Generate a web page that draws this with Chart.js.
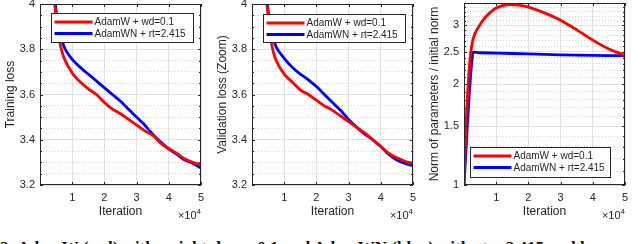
<!DOCTYPE html>
<html>
<head>
<meta charset="utf-8">
<script src="https://cdn.jsdelivr.net/npm/chart.js@4/dist/chart.umd.min.js"></script>
<style>
  html, body { margin: 0; padding: 0; background: #fff; }
  #fig { position: relative; width: 640px; height: 244px; overflow: hidden; background: #fff; }
  #fig canvas { position: absolute; top: 0; }
  #caption { position: absolute; left: 0; top: 238px; white-space: nowrap;
    font: bold 17px "Liberation Serif", "DejaVu Serif", serif; color: #111; }
</style>
</head>
<body>
<div id="fig">
  <canvas id="c_train" width="210" height="228" style="left:0px"></canvas>
  <canvas id="c_val" width="210" height="228" style="left:212px"></canvas>
  <canvas id="c_norm" width="216" height="228" style="left:424px"></canvas>
  <div id="caption">2: AdamW (red) with weight decay 0.1 and AdamWN (blue) with rt = 2.415 and lr</div>
</div>
<script>
// iteration, in units of 1e4
var lossIter = [0.4, 0.5, 0.6, 0.75, 1.0, 1.25, 1.5, 1.75, 2.0, 2.25, 2.5, 2.75, 3.0, 3.25, 3.5, 3.75, 4.0, 4.25, 4.5, 4.75, 5.0];

var trainRed  = [4.08, 3.94, 3.84, 3.76, 3.695, 3.655, 3.625, 3.60, 3.565, 3.535, 3.515, 3.49, 3.465, 3.44, 3.42, 3.385, 3.36, 3.34, 3.315, 3.30, 3.29];
var trainBlue = [4.15, 3.97, 3.89, 3.81, 3.755, 3.72, 3.69, 3.66, 3.63, 3.60, 3.57, 3.535, 3.50, 3.465, 3.425, 3.39, 3.36, 3.335, 3.31, 3.295, 3.275];

var valRed  = [4.08, 3.95, 3.83, 3.75, 3.69, 3.655, 3.62, 3.60, 3.575, 3.55, 3.53, 3.505, 3.48, 3.455, 3.43, 3.40, 3.37, 3.34, 3.32, 3.305, 3.295];
var valBlue = [4.15, 3.97, 3.89, 3.81, 3.76, 3.72, 3.69, 3.665, 3.635, 3.60, 3.565, 3.53, 3.49, 3.455, 3.425, 3.40, 3.37, 3.335, 3.31, 3.295, 3.285];

var normIterRed = [0, 0.05, 0.1, 0.15, 0.2, 0.27, 0.35, 0.5, 0.7, 1.0, 1.35, 1.7, 2.0, 2.5, 3.0, 3.5, 4.0, 4.5, 5.0];
var normRed     = [1.0, 1.4, 1.8, 2.15, 2.45, 2.7, 2.85, 3.02, 3.2, 3.38, 3.46, 3.45, 3.40, 3.27, 3.11, 2.91, 2.71, 2.55, 2.44];
var normIterBlue = [0, 0.27, 0.5, 1.0, 2.0, 3.0, 4.0, 5.0];
var normBlue     = [1.0, 2.48, 2.485, 2.48, 2.465, 2.45, 2.44, 2.435];

var iterTicks = [1, 2, 3, 4, 5];
var lossTicks = [3.2, 3.4, 3.6, 3.8, 4];
var normTicks = [1, 1.5, 2, 2.5, 3];

var labelRed = 'AdamW + wd=0.1';
var labelBlue = 'AdamWN + rt=2.415';

var INK = '#262626';
Chart.defaults.font.family = '"Liberation Sans", Arial, Helvetica, sans-serif';
Chart.defaults.color = INK;

function pts(xs, ys) {
	return xs.map(function(x, i){ return {x: x, y: ys[i]}; });
}
function steps(a, b, d) {
	var out = [];
	for (var v = a; v <= b + 1e-9; v += d) out.push(Math.round(v * 1000) / 1000);
	return out;
}
function isIn(list, v) {
	return list.some(function(t){ return Math.abs(t - v) < 1e-6; });
}

// box, inner ticks, legend and x10^4 the matlab way
var matlabStyle = {
	id: 'matlabStyle',
	afterDraw: function(chart, args, opts) {
		var ctx = chart.ctx, a = chart.chartArea;
		var xs = chart.scales.x, ys = chart.scales.y;
		ctx.save();
		ctx.strokeStyle = INK;
		ctx.lineWidth = 1;
		ctx.strokeRect(Math.round(a.left) + 0.5, Math.round(a.top) + 0.5,
			Math.round(a.right - a.left) - 1, Math.round(a.bottom - a.top) - 1);
		ctx.beginPath();
		xs.ticks.forEach(function(t){
			var px = Math.round(xs.getPixelForValue(t.value)) + 0.5;
			ctx.moveTo(px, a.bottom); ctx.lineTo(px, a.bottom - 3);
			ctx.moveTo(px, a.top); ctx.lineTo(px, a.top + 3);
		});
		ys.ticks.forEach(function(t){
			var py = Math.round(ys.getPixelForValue(t.value)) + 0.5;
			var len = isIn(opts.yMajor, t.value) ? 3 : 2;
			ctx.moveTo(a.left, py); ctx.lineTo(a.left + len, py);
			ctx.moveTo(a.right, py); ctx.lineTo(a.right - len, py);
		});
		ctx.stroke();

		// x10^4
		ctx.fillStyle = INK;
		ctx.textBaseline = 'alphabetic';
		ctx.textAlign = 'right';
		ctx.font = '8px "Liberation Sans", Arial, sans-serif';
		ctx.fillText('4', a.right, a.bottom + 29);
		var w4 = ctx.measureText('4').width;
		ctx.font = '11px "Liberation Sans", Arial, sans-serif';
		ctx.fillText('\u00d710', a.right - w4, a.bottom + 34);

		// legend inside the axes
		var L = opts.legend;
		var bw = L.w, bh = L.h;
		var bx = L.corner === 'tr' ? a.right - L.dx - bw : a.left + L.dx;
		var by = L.corner === 'tr' ? a.top + L.dy : a.bottom - L.dy - bh;
		bx = Math.round(bx) + 0.5; by = Math.round(by) + 0.5;
		ctx.fillStyle = '#fff';
		ctx.fillRect(bx, by, bw, bh);
		ctx.strokeStyle = INK;
		ctx.lineWidth = 1;
		ctx.strokeRect(bx, by, bw, bh);
		ctx.font = '10px "Liberation Sans", Arial, sans-serif';
		ctx.textAlign = 'left';
		ctx.textBaseline = 'middle';
		chart.data.datasets.forEach(function(ds, i){
			var ry = by + 8.5 + i * 11.5;
			ctx.strokeStyle = ds.borderColor;
			ctx.lineWidth = 3;
			ctx.beginPath();
			ctx.moveTo(bx + 3, ry); ctx.lineTo(bx + 41, ry);
			ctx.stroke();
			ctx.fillStyle = INK;
			ctx.fillText(ds.label, bx + 43, ry + 0.5);
		});
		ctx.restore();
	}
};

function makeChart(id, datasets, o) {
	var yMinor = o.yGrid;
	return new Chart(document.getElementById(id), {
		type: 'line',
		data: { datasets: datasets },
		plugins: [matlabStyle],
		options: {
			responsive: false,
			animation: false,
			devicePixelRatio: 1,
			layout: { padding: { top: o.top, right: o.right, left: 0, bottom: 0 } },
			plugins: {
				legend: { display: false },
				tooltip: { enabled: false },
				matlabStyle: { yMajor: o.yTicks, legend: o.legend }
			},
			elements: {
				point: { radius: 0 },
				line: { borderWidth: 2.8, tension: 0.25, borderCapStyle: 'round', borderJoinStyle: 'round' }
			},
			scales: {
				x: {
					type: 'linear',
					min: 0, max: 5,
					afterBuildTicks: function(s){ s.ticks = iterTicks.map(function(v){ return {value: v}; }); },
					afterFit: function(s){ s.height = 43; s.paddingLeft = 0; s.paddingRight = 0; },
					ticks: { autoSkip: false, maxRotation: 0, padding: 6, font: { size: 11 }, color: INK,
						callback: function(v){ return String(v); } },
					grid: { color: '#e1e1e1', lineWidth: 1, drawTicks: false },
					border: { display: false },
					title: { display: true, text: 'Iteration', font: { size: 12 }, color: INK,
						padding: { top: 0, bottom: 9 } }
				},
				y: {
					type: o.yType,
					min: o.yMin, max: o.yMax,
					afterBuildTicks: function(s){ s.ticks = yMinor.map(function(v){ return {value: v}; }); },
					afterFit: function(s){ s.width = 40; s.paddingTop = 0; s.paddingBottom = 0; },
					ticks: { autoSkip: false, padding: 5, font: { size: 11 }, color: INK,
						callback: function(v){ return isIn(o.yTicks, v) ? String(Number(v.toFixed(2))) : ''; } },
					grid: { drawTicks: false, lineWidth: 1,
						color: function(c){ return c.tick && isIn(o.yTicks, c.tick.value) ? '#e1e1e1' : '#d2d2d2'; } },
					border: { display: false,
						dash: function(c){ return c.tick && !isIn(o.yTicks, c.tick.value) ? [1, 2] : []; } },
					title: { display: true, text: o.yTitle, font: { size: 12 }, color: INK,
						padding: { top: 3, bottom: 0 } }
				}
			}
		}
	});
}

function series(label, color, data) {
	return { label: label, data: data, borderColor: color, backgroundColor: color, fill: false };
}

makeChart('c_train', [
	series(labelRed, '#ff0000', pts(lossIter, trainRed)),
	series(labelBlue, '#0000ff', pts(lossIter, trainBlue))
], {
	top: 4, right: 9, yType: 'linear', yMin: 3.2, yMax: 4,
	yTicks: lossTicks, yGrid: steps(3.2, 4, 0.05), yTitle: 'Training loss',
	legend: { corner: 'tr', dx: 8, dy: 9, w: 142, h: 29 }
});

makeChart('c_val', [
	series(labelRed, '#ff0000', pts(lossIter, valRed)),
	series(labelBlue, '#0000ff', pts(lossIter, valBlue))
], {
	top: 4, right: 9, yType: 'linear', yMin: 3.2, yMax: 4,
	yTicks: lossTicks, yGrid: steps(3.2, 4, 0.05), yTitle: 'Validation loss (Zoom)',
	legend: { corner: 'tr', dx: 8, dy: 10, w: 142, h: 28 }
});

makeChart('c_norm', [
	series(labelRed, '#ff0000', pts(normIterRed, normRed)),
	series(labelBlue, '#0000ff', pts(normIterBlue, normBlue))
], {
	top: 3, right: 15, yType: 'logarithmic', yMin: 1, yMax: 3.5,
	yTicks: normTicks, yGrid: steps(1, 3.5, 0.1), yTitle: 'Norm of parameters / initial norm',
	legend: { corner: 'bl', dx: 6, dy: 8, w: 140, h: 30 }
});
</script>
</body>
</html>
